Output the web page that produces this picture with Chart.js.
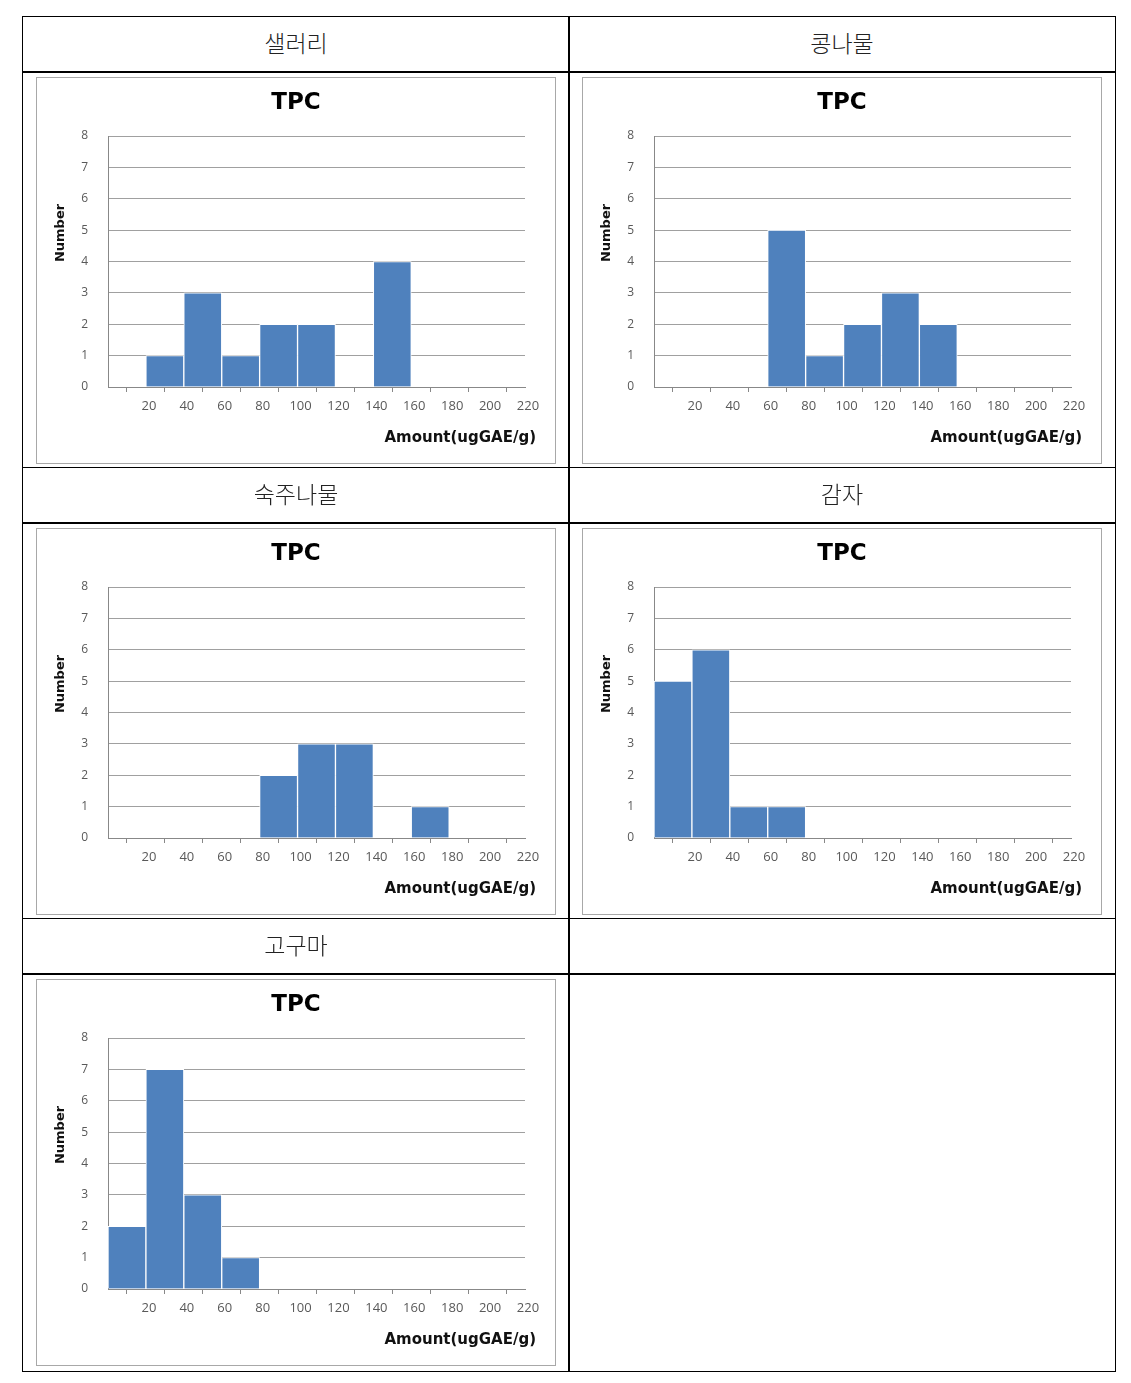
<!DOCTYPE html>
<html lang="ko">
<head>
<meta charset="utf-8">
<script src="https://cdn.jsdelivr.net/npm/chart.js@4.4.1/dist/chart.umd.min.js"></script>
<style>
  body { margin: 0; background: #fff; width: 1131px; height: 1383px; position: relative; }
  .cell { position: absolute; box-sizing: border-box; border: 1.5px solid #000; }
  .head { font-family: "Noto Sans CJK KR", sans-serif; font-weight: 300; font-size: 23px; color: #222;
          display: flex; align-items: center; justify-content: center; padding-bottom: 5px; }
  .box { position: absolute; width: 520px; height: 387px; }
  .box canvas { position: absolute; left: 0; top: 0; }
  .frame { position: absolute; left: 0; top: 0; width: 520px; height: 387px; box-sizing: border-box;
           border: 1.5px solid #a8a8a8; pointer-events: none; }
</style>
</head>
<body>
<div id="page"></div>
<script>
// histogram bins (ugGAE/g): bar centres of the 20-wide classes
const bins = [10, 30, 50, 70, 90, 110, 130, 150, 170, 190, 210];
const xTickLabels = [20, 40, 60, 80, 100, 120, 140, 160, 180, 200, 220];
const yTickLabels = [0, 1, 2, 3, 4, 5, 6, 7, 8];

const celery = [0, 1, 3, 1, 2, 2, 0, 4, 0, 0, 0];        // 샐러리
const soySprout = [0, 0, 0, 5, 1, 2, 3, 2, 0, 0, 0];     // 콩나물
const mungSprout = [0, 0, 0, 0, 2, 3, 3, 0, 1, 0, 0];    // 숙주나물
const potato = [5, 6, 1, 1, 0, 0, 0, 0, 0, 0, 0];        // 감자
const sweetPotato = [2, 7, 3, 1, 0, 0, 0, 0, 0, 0, 0];   // 고구마

const panels = [
    { name: '샐러리', counts: celery },
    { name: '콩나물', counts: soySprout },
    { name: '숙주나물', counts: mungSprout },
    { name: '감자', counts: potato },
    { name: '고구마', counts: sweetPotato },
    { name: '', counts: null }
];

const page = document.getElementById('page');
const headTops = [16, 467, 918];
const bodyHeights = [396, 396, 398];

// axis titles drawn relative to the box
const axisText = {
    id: 'axisText',
    afterDraw(chart) {
        const ctx = chart.ctx;
        ctx.save();
        ctx.fillStyle = '#111';
        ctx.textBaseline = 'middle';
        ctx.font = 'bold 15px "DejaVu Sans", sans-serif';
        ctx.textAlign = 'right';
        ctx.fillText('Amount(ugGAE/g)', 500, 361);
        ctx.font = 'bold 13px "DejaVu Sans", sans-serif';
        ctx.translate(25, 156);
        ctx.rotate(-Math.PI / 2);
        ctx.textAlign = 'center';
        ctx.fillText('Number', 0, 0);
        ctx.restore();
    }
};

panels.forEach((p, i) => {
    const col = i % 2;
    const row = Math.floor(i / 2);
    const left = 22 + col * 546;
    const top = headTops[row];

    const head = document.createElement('div');
    head.className = 'cell head';
    head.style.cssText = `left:${left}px;top:${top}px;width:548px;height:57px;`;
    head.textContent = p.name;
    page.appendChild(head);

    const body = document.createElement('div');
    body.className = 'cell';
    body.style.cssText = `left:${left}px;top:${top + 55}px;width:548px;height:${bodyHeights[row] + 1}px;`;
    page.appendChild(body);

    if (!p.counts) return;

    const box = document.createElement('div');
    box.className = 'box';
    box.style.left = (left + 14) + 'px';
    box.style.top = (top + 61) + 'px';
    box.innerHTML = '<canvas width="520" height="387"></canvas><div class="frame"></div>';
    page.appendChild(box);

    new Chart(box.querySelector('canvas'), {
        type: 'bar',
        data: {
            datasets: [{
                data: bins.map((b, k) => ({ x: b, y: p.counts[k] })),
                backgroundColor: '#4F81BD',
                borderColor: '#ffffff',
                borderWidth: 1,
                borderSkipped: 'bottom',
                barPercentage: 1,
                categoryPercentage: 1
            }]
        },
        options: {
            responsive: false,
            animation: false,
            layout: { padding: 0 },
            plugins: {
                legend: { display: false },
                tooltip: { enabled: false },
                title: {
                    display: true,
                    text: 'TPC',
                    color: '#000',
                    font: { family: '"DejaVu Sans", sans-serif', size: 23, weight: 'bold', lineHeight: 1.2 },
                    padding: { top: 12, bottom: 19.4 }
                }
            },
            scales: {
                x: {
                    type: 'linear',
                    min: 0,
                    max: 220,
                    offset: false,
                    afterBuildTicks: (scale) => { scale.ticks = xTickLabels.map(v => ({ value: v })); },
                    afterFit: (scale) => { scale.height = 77; },
                    grid: { drawOnChartArea: false, drawTicks: true, tickLength: 5, color: '#888' },
                    border: { display: true, color: '#888', width: 1 },
                    ticks: {
                        padding: 6,
                        labelOffset: 3,
                        maxRotation: 0,
                        autoSkip: false,
                        color: '#595959',
                        font: { family: '"Open Sans", sans-serif', size: 13 }
                    }
                },
                y: {
                    min: 0,
                    max: 8,
                    afterBuildTicks: (scale) => { scale.ticks = yTickLabels.map(v => ({ value: v })); },
                    afterFit: (scale) => { scale.width = 72; },
                    grid: { drawTicks: false, color: '#a0a0a0', lineWidth: 1 },
                    border: { display: true, color: '#888', width: 1 },
                    ticks: {
                        padding: 20,
                        color: '#595959',
                        font: { family: '"Open Sans", sans-serif', size: 12 }
                    }
                },
                // empty right-hand axis keeps the plot clear of the right edge
                yRight: {
                    position: 'right',
                    display: true,
                    afterFit: (scale) => { scale.width = 31; },
                    grid: { display: false },
                    border: { display: false },
                    ticks: { display: false }
                }
            }
        },
        plugins: [axisText]
    });
});
</script>
</body>
</html>
